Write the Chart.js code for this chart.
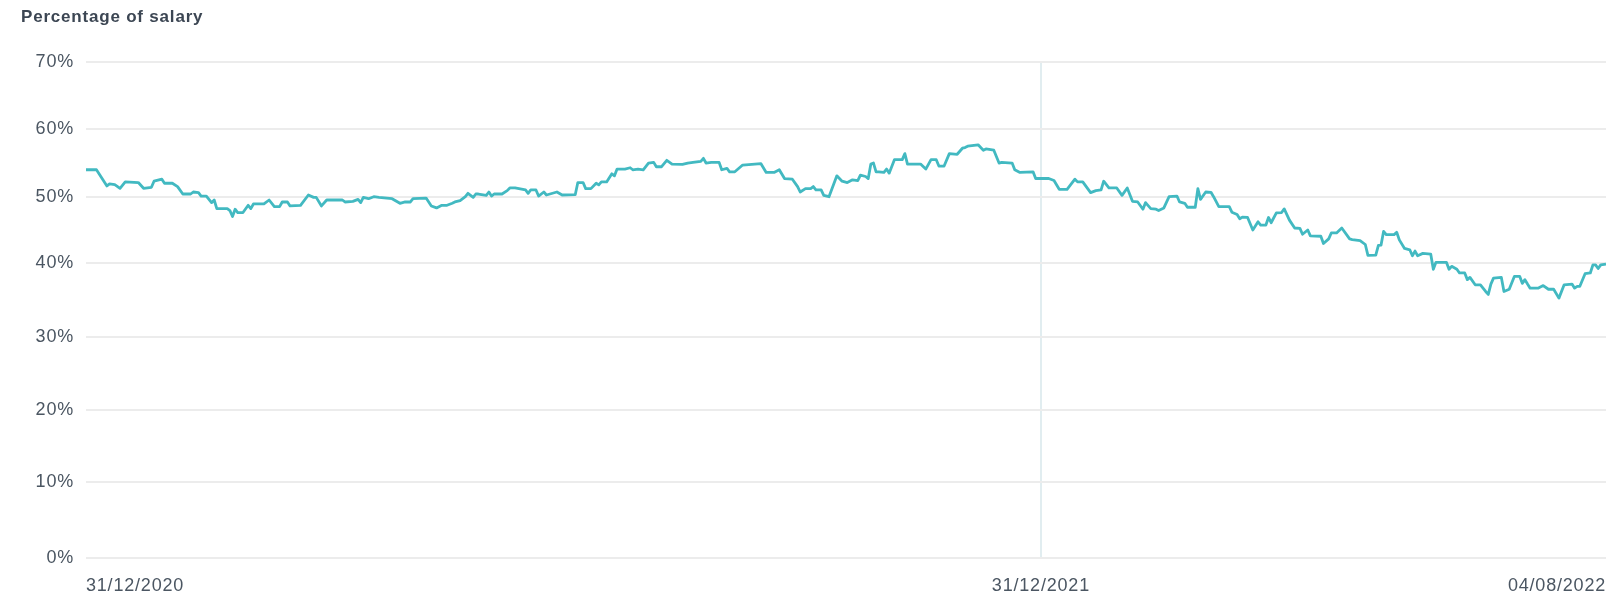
<!DOCTYPE html>
<html>
<head>
<meta charset="utf-8">
<script src="https://cdn.jsdelivr.net/npm/chart.js@4.4.1/dist/chart.umd.min.js"></script>
<style>
  html, body { margin: 0; padding: 0; background: #fff; }
  #wrap { width: 1623px; height: 596px; position: relative; }
</style>
</head>
<body>
<div id="wrap"><canvas id="salaryChart"></canvas></div>
<script>
// days since 31/12/2020
const days = [
    0, 4, 8, 9, 11, 13, 15, 20, 22, 25, 26, 29, 30, 33, 35, 37, 40, 41, 43, 44,
    46, 48, 49, 50, 54, 55, 56, 57, 58, 60, 62, 63, 64, 68, 70, 72, 74, 75, 77, 78,
    82, 85, 87, 88, 90, 92, 98, 99, 102, 104, 105, 106, 108, 110, 112, 117, 120, 122, 124, 125,
    130, 132, 134, 136, 138, 140, 141, 143, 145, 146, 148, 149, 150, 153, 154, 155, 156, 159, 161, 162,
    164, 168, 169, 170, 172, 173, 175, 176, 180, 182, 187, 188, 190, 191, 193, 195, 196, 197, 199, 201,
    202, 203, 206, 208, 209, 211, 213, 215, 217, 218, 220, 222, 224, 228, 230, 232, 235, 236, 237, 239,
    242, 243, 245, 246, 248, 251, 258, 260, 263, 265, 267, 270, 272, 273, 275, 277, 278, 279, 281, 282,
    284, 287, 289, 291, 293, 295, 296, 298, 299, 300, 301, 302, 303, 305, 306, 307, 309, 312, 313, 314,
    319, 321, 323, 325, 326, 328, 330, 333, 335, 336, 337, 341, 343, 344, 347, 349, 350, 354, 355, 357,
    362, 363, 368, 370, 372, 375, 378, 379, 381, 384, 386, 388, 389, 391, 394, 396, 398, 400, 402, 404,
    405, 407, 409, 410, 412, 414, 417, 418, 420, 421, 424, 425, 426, 428, 430, 431, 433, 437, 438, 440,
    441, 442, 444, 446, 448, 449, 451, 452, 453, 455, 457, 458, 460, 462, 464, 465, 467, 468, 472, 473,
    475, 476, 478, 480, 483, 484, 487, 489, 490, 493, 494, 495, 496, 497, 500, 501, 502, 504, 506, 507,
    508, 509, 511, 514, 515, 516, 520, 521, 522, 524, 525, 527, 528, 529, 531, 533, 535, 536, 537, 538,
    541, 542, 544, 546, 548, 549, 550, 551, 552, 555, 557, 559, 561, 563, 565, 568, 569, 570, 571, 573,
    575, 576, 577, 578, 579, 581
];
const salaryPct = [
    54.0, 54.0, 51.6, 51.9, 51.8, 51.25, 52.2, 52.1, 51.25, 51.4, 52.3, 52.6, 52.0, 52.0, 51.5, 50.4, 50.4, 50.7, 50.6, 50.1,
    50.1, 49.1, 49.5, 48.2, 48.2, 47.9, 47.0, 48.1, 47.6, 47.6, 48.7, 48.2, 48.9, 48.9, 49.5, 48.5, 48.5, 49.2, 49.2, 48.6,
    48.7, 50.25, 49.9, 49.9, 48.6, 49.5, 49.5, 49.2, 49.3, 49.6, 49.1, 49.9, 49.7, 50.0, 49.9, 49.7, 49.0, 49.2, 49.2, 49.7,
    49.8, 48.6, 48.3, 48.7, 48.7, 49.0, 49.2, 49.4, 50.0, 50.5, 49.9, 50.4, 50.4, 50.2, 50.7, 50.1, 50.4, 50.4, 50.9, 51.3,
    51.3, 51.0, 50.5, 51.0, 51.0, 50.1, 50.7, 50.25, 50.7, 50.25, 50.3, 52.1, 52.1, 51.2, 51.2, 52.0, 51.75, 52.2, 52.2, 53.4,
    53.1, 54.1, 54.1, 54.3, 54.0, 54.1, 54.0, 55.0, 55.1, 54.45, 54.45, 55.4, 54.85, 54.8, 55.0, 55.1, 55.25, 55.7, 55.0, 55.1,
    55.1, 54.0, 54.2, 53.7, 53.7, 54.7, 54.9, 53.6, 53.6, 54.0, 52.7, 52.6, 51.5, 50.7, 51.2, 51.2, 51.5, 51.0, 51.0, 50.2,
    50.0, 53.1, 52.3, 52.1, 52.5, 52.4, 53.2, 53.0, 52.7, 54.85, 55.0, 53.7, 53.7, 53.6, 54.1, 53.5, 55.5, 55.5, 56.4, 54.85,
    54.85, 54.1, 55.5, 55.5, 54.55, 54.55, 56.4, 56.3, 57.2, 57.3, 57.5, 57.7, 56.9, 57.1, 56.9, 55.0, 55.1, 55.0, 54.0, 53.6,
    53.7, 52.7, 52.7, 52.4, 51.1, 51.1, 52.6, 52.2, 52.2, 50.6, 50.9, 51.0, 52.3, 51.3, 51.3, 50.2, 51.3, 49.3, 49.2, 48.1,
    49.1, 48.2, 48.1, 47.9, 48.3, 50.0, 50.1, 49.2, 49.0, 48.4, 48.4, 51.2, 49.6, 50.7, 50.65, 50.0, 48.5, 48.5, 47.65, 47.3,
    46.65, 46.9, 46.85, 44.95, 46.2, 45.7, 45.7, 46.85, 46.05, 47.55, 47.6, 48.15, 46.45, 45.25, 45.2, 44.3, 44.95, 44.05, 44.0, 42.9,
    43.6, 44.5, 44.5, 45.25, 43.6, 43.5, 43.35, 42.75, 41.1, 41.15, 42.6, 42.65, 44.75, 44.25, 44.25, 44.6, 43.45, 42.15, 41.95, 41.05,
    41.75, 41.05, 41.4, 41.3, 39.1, 40.05, 40.05, 39.1, 39.5, 39.1, 38.6, 38.6, 37.7, 38.0, 37.0, 37.0, 36.1, 35.7, 37.1, 37.9,
    38.0, 36.1, 36.4, 38.15, 38.15, 37.2, 37.7, 37.1, 36.55, 36.55, 36.9, 36.4, 36.4, 35.2, 37.0, 37.1, 36.55, 36.8, 36.8, 38.5,
    38.6, 39.7, 39.7, 39.2, 39.7, 39.8
];
const tickDays = [0, 365, 581];
const tickLabels = ['31/12/2020', '31/12/2021', '04/08/2022'];
const yearMarkDay = 365;

// the picture's y gridlines are not evenly spaced, so map 0..70 through these stops
const warpStops = [0, 0.1532, 0.2990, 0.4468, 0.5960, 0.7290, 0.8649, 1];

function warp(d) {
    const n = warpStops.length - 1;
    const p = Math.min(Math.max(d, 0), 1) * n;
    const i = Math.min(Math.floor(p), n - 1);
    return warpStops[i] + (p - i) * (warpStops[i + 1] - warpStops[i]);
}
function unwarp(f) {
    const n = warpStops.length - 1;
    for (let i = 0; i < n; i++) {
        if (f <= warpStops[i + 1] || i === n - 1) {
            return (i + (f - warpStops[i]) / (warpStops[i + 1] - warpStops[i])) / n;
        }
    }
    return 1;
}

class WarpedScale extends Chart.LinearScale {
    getPixelForValue(value) {
        if (value === null) return NaN;
        return this.getPixelForDecimal(warp((value - this._startValue) / this._valueRange));
    }
    getValueForPixel(pixel) {
        return this._startValue + unwarp(this.getDecimalForPixel(pixel)) * this._valueRange;
    }
}
WarpedScale.id = 'warped';
WarpedScale.defaults = Chart.LinearScale.defaults;
Chart.register(WarpedScale);

// the labels in the picture are slightly spaced out
const spacedText = {
    id: 'spacedText',
    beforeLayout: (chart) => { chart.ctx.letterSpacing = '0.8px'; },
    beforeDraw: (chart) => { chart.ctx.letterSpacing = '0.8px'; }
};

const labelColor = '#4b5662';
const fontFamily = '"Liberation Sans", Arial, sans-serif';

const ctx = document.getElementById('salaryChart').getContext('2d');
const salaryChart = new Chart(ctx, {
    type: 'line',
    data: {
        datasets: [{
            label: 'Percentage of salary',
            data: days.map((d, i) => ({ x: d, y: salaryPct[i] })),
            borderColor: '#42b9c1',
            borderWidth: 2.8,
            pointRadius: 0,
            tension: 0,
            fill: false,
            borderJoinStyle: 'round'
        }]
    },
    options: {
        responsive: true,
        maintainAspectRatio: false,
        animation: false,
        layout: {
            padding: { left: 21, right: 14, top: 0, bottom: 0 }
        },
        plugins: {
            legend: { display: false },
            tooltip: { enabled: false },
            title: {
                display: true,
                text: 'Percentage of salary',
                align: 'start',
                color: '#3c4653',
                font: { family: fontFamily, size: 17, weight: 'bold' },
                padding: { top: 7, bottom: 35 }
            }
        },
        scales: {
            x: {
                type: 'linear',
                min: 0,
                max: 581,
                afterBuildTicks: (scale) => {
                    scale.ticks = tickDays.map(v => ({ value: v }));
                },
                afterFit: (scale) => { scale.height = 38; },
                ticks: {
                    autoSkip: false,
                    maxRotation: 0,
                    align: 'inner',
                    padding: 17,
                    color: labelColor,
                    font: { family: fontFamily, size: 18 },
                    callback: (v, i) => tickLabels[i]
                },
                grid: {
                    drawTicks: false,
                    lineWidth: 2,
                    color: (c) => (c.tick && c.tick.value === yearMarkDay) ? '#e1edf0' : 'rgba(0,0,0,0)'
                },
                border: { display: false }
            },
            y: {
                type: 'warped',
                min: 0,
                max: 70,
                afterFit: (scale) => { scale.width = 65; },
                ticks: {
                    stepSize: 10,
                    padding: 12,
                    color: labelColor,
                    font: { family: fontFamily, size: 18 },
                    callback: (v) => v + '%'
                },
                grid: {
                    drawTicks: false,
                    lineWidth: 2,
                    color: '#ececec'
                },
                border: { display: false }
            }
        }
    },
    plugins: [spacedText]
});
</script>
</body>
</html>
